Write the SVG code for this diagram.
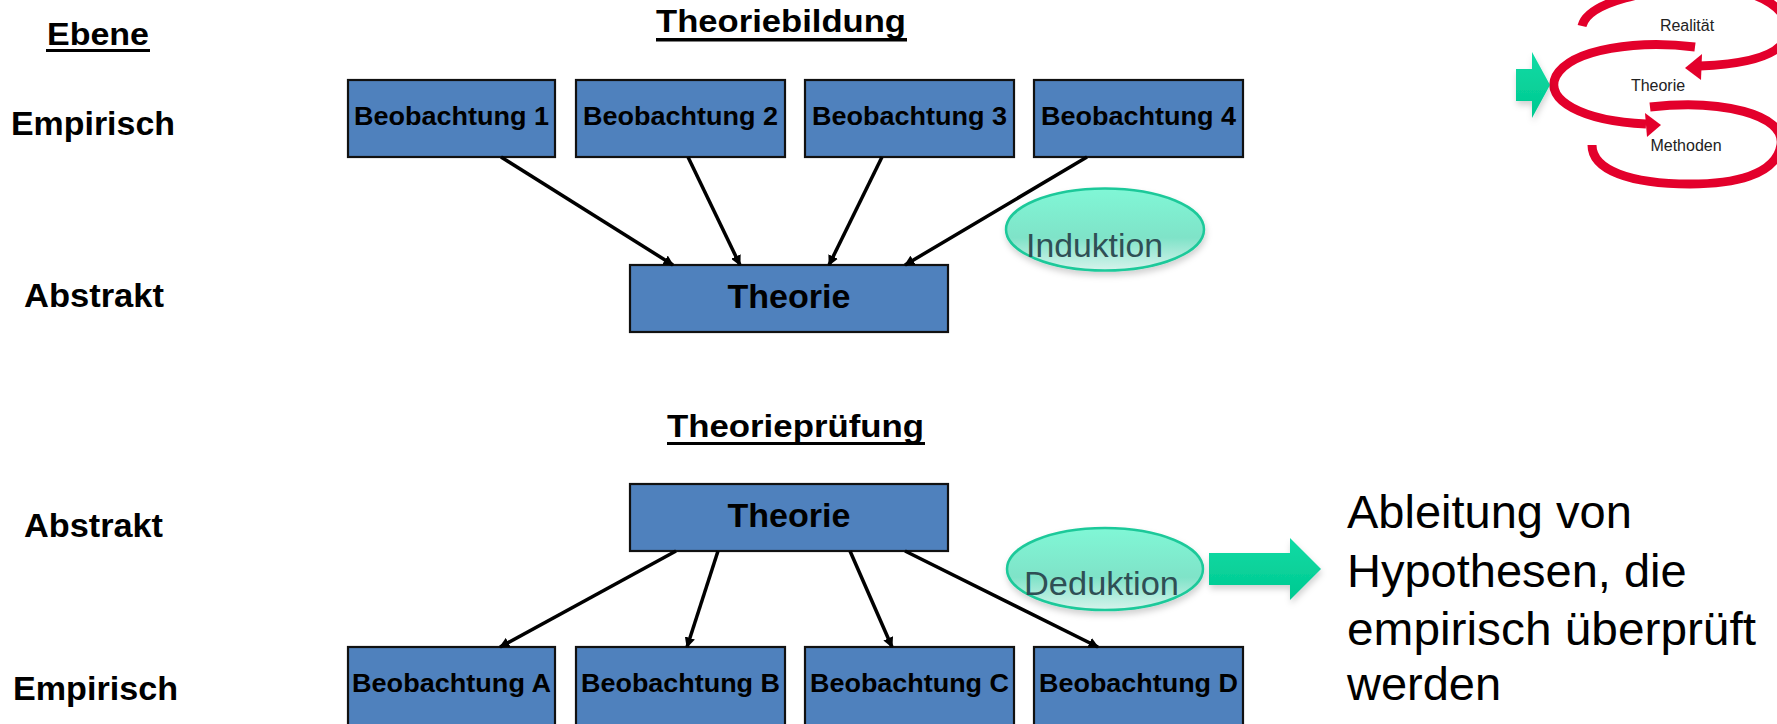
<svg xmlns="http://www.w3.org/2000/svg" width="1777" height="724" viewBox="0 0 1777 724">
  <style>
    text { font-family: "Liberation Sans", Arial, sans-serif; }
    .lbl { font-weight: bold; font-size: 33px; fill: #000; }
    .hdr { font-weight: bold; font-size: 31px; fill: #000; }
    .box { fill: #4f81bd; stroke: #111; stroke-width: 2.2; }
    .btxt { font-weight: bold; font-size: 26px; fill: #000; text-anchor: middle; }
    .ttxt { font-weight: bold; font-size: 33px; fill: #000; text-anchor: middle; }
    .conn { stroke: #000; stroke-width: 3.5; fill: none; marker-end: url(#ah); }
    .oval { fill: url(#ovalFill); stroke: #1ec99a; stroke-width: 2.5; filter: url(#soft); }
    .otxt { font-size: 34px; fill: #2f4f55; }
    .note { font-size: 47px; fill: #000; }
    .loop { fill: none; stroke: #e3002b; stroke-width: 9; stroke-linecap: butt; }
    .ltxt { font-size: 16px; fill: #222; text-anchor: middle; }
    .green { fill: url(#greenFill); filter: url(#soft); }
  </style>
  <defs>
    <marker id="ah" viewBox="0 0 10 10" refX="9" refY="5" markerWidth="3" markerHeight="3" orient="auto">
      <path d="M0,0 L10,5 L0,10 z" fill="#000"/>
    </marker>
    <linearGradient id="ovalFill" x1="0" y1="0" x2="0" y2="1">
      <stop offset="0" stop-color="#80f7d6"/>
      <stop offset="0.6" stop-color="#7fe3c8"/>
      <stop offset="1" stop-color="#d6f3ec"/>
    </linearGradient>
    <linearGradient id="greenFill" x1="0" y1="0" x2="0" y2="1">
      <stop offset="0" stop-color="#10dba5"/>
      <stop offset="1" stop-color="#00c990"/>
    </linearGradient>
    <filter id="soft" x="-20%" y="-20%" width="140%" height="160%">
      <feDropShadow dx="1" dy="4" stdDeviation="3" flood-color="#000" flood-opacity="0.18"/>
    </filter>
  </defs>

  <!-- level labels -->
  <g id="labels">
    <text class="hdr" x="47" y="45" textLength="102" lengthAdjust="spacingAndGlyphs">Ebene</text>
    <rect x="46" y="49" width="104" height="3"/>
    <text class="lbl" x="11" y="135" textLength="164" lengthAdjust="spacingAndGlyphs">Empirisch</text>
    <text class="lbl" x="24" y="307" textLength="140" lengthAdjust="spacingAndGlyphs">Abstrakt</text>
    <text class="lbl" x="24" y="537" textLength="139" lengthAdjust="spacingAndGlyphs">Abstrakt</text>
    <text class="lbl" x="13" y="700" textLength="165" lengthAdjust="spacingAndGlyphs">Empirisch</text>
  </g>

  <!-- section titles -->
  <g id="title-bildung">
    <text class="hdr" x="656" y="32" textLength="250" lengthAdjust="spacingAndGlyphs">Theoriebildung</text>
    <rect x="656" y="38" width="251" height="3.5"/>
  </g>
  <g id="title-pruefung">
    <text class="hdr" x="667" y="437" textLength="257" lengthAdjust="spacingAndGlyphs">Theorieprüfung</text>
    <rect x="667" y="442" width="258" height="3"/>
  </g>

  <!-- theory building: observations -->
  <g id="obs1"><rect class="box" x="348" y="80" width="207" height="77"/><text class="btxt" x="451.5" y="125" textLength="195" lengthAdjust="spacingAndGlyphs">Beobachtung 1</text></g>
  <g id="obs2"><rect class="box" x="576" y="80" width="209" height="77"/><text class="btxt" x="680.5" y="125" textLength="195" lengthAdjust="spacingAndGlyphs">Beobachtung 2</text></g>
  <g id="obs3"><rect class="box" x="805" y="80" width="209" height="77"/><text class="btxt" x="909.5" y="125" textLength="195" lengthAdjust="spacingAndGlyphs">Beobachtung 3</text></g>
  <g id="obs4"><rect class="box" x="1034" y="80" width="209" height="77"/><text class="btxt" x="1138.5" y="125" textLength="195" lengthAdjust="spacingAndGlyphs">Beobachtung 4</text></g>
  <g id="theorie1"><rect class="box" x="630" y="265" width="318" height="67"/><text class="ttxt" x="789" y="308" textLength="123" lengthAdjust="spacingAndGlyphs">Theorie</text></g>

  <!-- theory testing -->
  <g id="theorie2"><rect class="box" x="630" y="484" width="318" height="67"/><text class="ttxt" x="789" y="527" textLength="123" lengthAdjust="spacingAndGlyphs">Theorie</text></g>
  <g id="obsA"><rect class="box" x="348" y="647" width="207" height="80"/><text class="btxt" x="451.5" y="692" textLength="199" lengthAdjust="spacingAndGlyphs">Beobachtung A</text></g>
  <g id="obsB"><rect class="box" x="576" y="647" width="209" height="80"/><text class="btxt" x="680.5" y="692" textLength="199" lengthAdjust="spacingAndGlyphs">Beobachtung B</text></g>
  <g id="obsC"><rect class="box" x="805" y="647" width="209" height="80"/><text class="btxt" x="909.5" y="692" textLength="199" lengthAdjust="spacingAndGlyphs">Beobachtung C</text></g>
  <g id="obsD"><rect class="box" x="1034" y="647" width="209" height="80"/><text class="btxt" x="1138.5" y="692" textLength="199" lengthAdjust="spacingAndGlyphs">Beobachtung D</text></g>

  <!-- connectors -->
  <g id="connectors">
    <line class="conn" x1="501" y1="157" x2="673" y2="265"/>
    <line class="conn" x1="688" y1="157" x2="740" y2="265"/>
    <line class="conn" x1="882" y1="157" x2="829" y2="265"/>
    <line class="conn" x1="1087" y1="157" x2="905" y2="265"/>
    <line class="conn" x1="676" y1="551" x2="500" y2="647"/>
    <line class="conn" x1="718" y1="551" x2="687" y2="647"/>
    <line class="conn" x1="850" y1="551" x2="892" y2="647"/>
    <line class="conn" x1="905" y1="551" x2="1098" y2="647"/>
  </g>

  <!-- method ovals -->
  <g id="induktion">
    <ellipse class="oval" cx="1105" cy="229.5" rx="99" ry="41"/>
    <text class="otxt" x="1026" y="257" textLength="137" lengthAdjust="spacingAndGlyphs">Induktion</text>
  </g>
  <g id="deduktion">
    <ellipse class="oval" cx="1105" cy="569" rx="98" ry="41"/>
    <text class="otxt" x="1024" y="595" textLength="155" lengthAdjust="spacingAndGlyphs">Deduktion</text>
  </g>

  <!-- arrow to hypotheses note -->
  <g id="hyp-arrow">
    <polygon class="green" points="1209,553 1290,553 1290,538 1321,569 1290,600 1290,585 1209,585"/>
  </g>
  <g id="hypothesen">
    <text class="note" x="1347" y="528">Ableitung von</text>
    <text class="note" x="1347" y="587">Hypothesen, die</text>
    <text class="note" x="1347" y="645" textLength="409" lengthAdjust="spacingAndGlyphs">empirisch überprüft</text>
    <text class="note" x="1347" y="700">werden</text>
  </g>

  <!-- research cycle emblem -->
  <g id="cycle">
    <path class="loop" d="M1582,26 C1588,2 1650,-12 1705,-12 C1765,-12 1792,12 1786,36 C1781,56 1745,64 1700,66"/>
    <polygon fill="#e3002b" points="1685,68 1702,54 1701,80"/>
    <path class="loop" d="M1695,47 C1640,40 1572,48 1556,76 C1544,100 1582,121 1646,124"/>
    <polygon fill="#e3002b" points="1661,125 1645,113 1647,137"/>
    <path class="loop" d="M1650,107 C1720,99 1786,114 1781,145 C1776,176 1732,184 1690,184 C1630,184 1592,170 1592,145"/>
    <text class="ltxt" x="1687" y="31">Realität</text>
    <text class="ltxt" x="1658" y="91">Theorie</text>
    <text class="ltxt" x="1686" y="151">Methoden</text>
    <polygon class="green" points="1516,69 1532,69 1532,52 1550,85 1532,118 1532,101 1516,101"/>
  </g>
</svg>
